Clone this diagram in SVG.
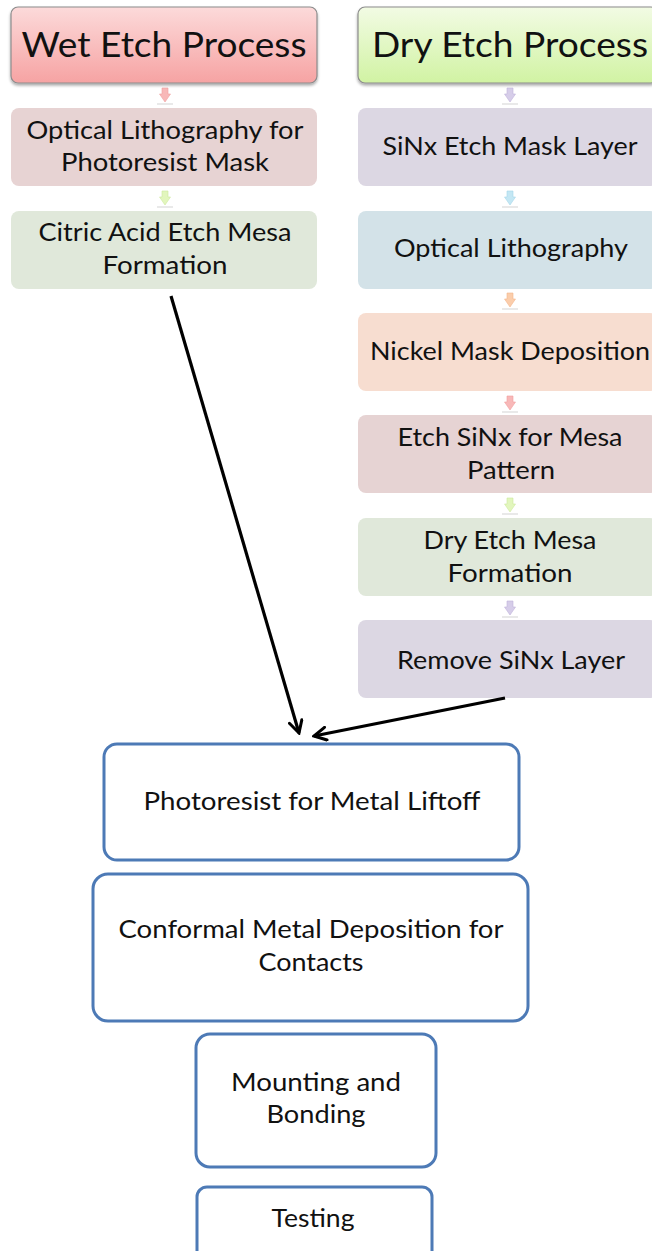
<svg xmlns="http://www.w3.org/2000/svg" width="652" height="1251" viewBox="0 0 652 1251">
  <defs>
    <linearGradient id="gradWet" x1="0" y1="0" x2="0" y2="1">
      <stop offset="0" stop-color="#fcdada"/>
      <stop offset="1" stop-color="#f6a3a3"/>
    </linearGradient>
    <linearGradient id="gradDry" x1="0" y1="0" x2="0" y2="1">
      <stop offset="0" stop-color="#f2fbe4"/>
      <stop offset="1" stop-color="#d1f3a3"/>
    </linearGradient>
    <filter id="shadow" x="-10%" y="-10%" width="120%" height="140%">
      <feGaussianBlur in="SourceAlpha" stdDeviation="1.5"/>
      <feOffset dx="0" dy="2" result="b"/>
      <feComponentTransfer><feFuncA type="linear" slope="0.35"/></feComponentTransfer>
      <feMerge><feMergeNode/><feMergeNode in="SourceGraphic"/></feMerge>
    </filter>
    <!-- small step arrow between stacked boxes -->
    <path id="tick" d="M-3,0 H3 V6 H5.5 L0,14 L-5.5,6 H-3 Z"/>
    <marker id="open" viewBox="0 0 16 16" refX="14" refY="8" markerWidth="16" markerHeight="16" markerUnits="userSpaceOnUse" orient="auto">
      <path d="M2,1.5 L14,8 L2,14.5" fill="none" stroke="#000" stroke-width="3" stroke-linecap="round" stroke-linejoin="miter"/>
    </marker>
  </defs>
  <style>
    text { font-family: Lato, "Open Sans", "Liberation Sans", sans-serif; fill: #111; text-anchor: middle; }
    .hd { font-size: 35px; }
    .bd { font-size: 25px; }
    .head { stroke: #8c8c8c; stroke-width: 1.2; filter: url(#shadow); }
    .step { stroke: none; }
    .tk { stroke-width: 0.6; }
    .tk-shade { stroke: #dadada; stroke-width: 1.2; }
    .out { fill: #fff; stroke: #4d7ab6; stroke-width: 3; }
    .link { fill: none; stroke: #000; stroke-width: 3.2; marker-end: url(#open); }
  </style>

  <rect width="652" height="1251" fill="#fff"/>

  <!-- Wet etch column -->
  <g id="wet-header">
    <rect class="head" x="11" y="7" width="306" height="76" rx="7" fill="url(#gradWet)"/>
    <text class="hd" x="164" y="57" textLength="285" lengthAdjust="spacingAndGlyphs">Wet Etch Process</text>
  </g>
  <g id="wet-step1">
    <use class="tk" href="#tick" x="165" y="88" fill="#f8b8b8" stroke="#f0a0a0"/>
    <line class="tk-shade" x1="157" y1="104" x2="173" y2="104"/>
    <rect class="step" x="11" y="108" width="306" height="78" rx="8" fill="#e7d3d3"/>
    <text class="bd" x="165" y="139" textLength="277" lengthAdjust="spacingAndGlyphs">Optical Lithography for</text>
    <text class="bd" x="165" y="171" textLength="208" lengthAdjust="spacingAndGlyphs">Photoresist Mask</text>
  </g>
  <g id="wet-step2">
    <use class="tk" href="#tick" x="165" y="191" fill="#e2f6bd" stroke="#cfe9a0"/>
    <line class="tk-shade" x1="157" y1="207" x2="173" y2="207"/>
    <rect class="step" x="11" y="211" width="306" height="78" rx="8" fill="#e0e8da"/>
    <text class="bd" x="165" y="241" textLength="253" lengthAdjust="spacingAndGlyphs">Citric Acid Etch Mesa</text>
    <text class="bd" x="165" y="274" textLength="125" lengthAdjust="spacingAndGlyphs">Formation</text>
  </g>

  <!-- Dry etch column -->
  <g id="dry-header">
    <rect class="head" x="358" y="7" width="300" height="76" rx="7" fill="url(#gradDry)"/>
    <text class="hd" x="510" y="57" textLength="276" lengthAdjust="spacingAndGlyphs">Dry Etch Process</text>
  </g>
  <g id="dry-step1">
    <use class="tk" href="#tick" x="510" y="88" fill="#d6cde9" stroke="#bfb2da"/>
    <line class="tk-shade" x1="502" y1="104" x2="518" y2="104"/>
    <rect class="step" x="358" y="108" width="300" height="78" rx="8" fill="#dcd7e3"/>
    <text class="bd" x="510" y="155" textLength="255" lengthAdjust="spacingAndGlyphs">SiNx Etch Mask Layer</text>
  </g>
  <g id="dry-step2">
    <use class="tk" href="#tick" x="510" y="191" fill="#c4e7f4" stroke="#a6d6ea"/>
    <line class="tk-shade" x1="502" y1="207" x2="518" y2="207"/>
    <rect class="step" x="358" y="211" width="300" height="78" rx="8" fill="#d3e2e8"/>
    <text class="bd" x="511" y="257" textLength="234" lengthAdjust="spacingAndGlyphs">Optical Lithography</text>
  </g>
  <g id="dry-step3">
    <use class="tk" href="#tick" x="510" y="293" fill="#fbcdab" stroke="#f1b58c"/>
    <line class="tk-shade" x1="502" y1="309" x2="518" y2="309"/>
    <rect class="step" x="358" y="313" width="300" height="78" rx="8" fill="#f7ddd0"/>
    <text class="bd" x="510" y="360" textLength="280" lengthAdjust="spacingAndGlyphs">Nickel Mask Deposition</text>
  </g>
  <g id="dry-step4">
    <use class="tk" href="#tick" x="510" y="396" fill="#f8b8b8" stroke="#f0a0a0"/>
    <line class="tk-shade" x1="502" y1="412" x2="518" y2="412"/>
    <rect class="step" x="358" y="415" width="300" height="78" rx="8" fill="#e6d3d3"/>
    <text class="bd" x="510" y="446" textLength="225" lengthAdjust="spacingAndGlyphs">Etch SiNx for Mesa</text>
    <text class="bd" x="511" y="479" textLength="88" lengthAdjust="spacingAndGlyphs">Pattern</text>
  </g>
  <g id="dry-step5">
    <use class="tk" href="#tick" x="510" y="498" fill="#e2f6bd" stroke="#cfe9a0"/>
    <line class="tk-shade" x1="502" y1="514" x2="518" y2="514"/>
    <rect class="step" x="358" y="518" width="300" height="78" rx="8" fill="#e0e8da"/>
    <text class="bd" x="510" y="549" textLength="173" lengthAdjust="spacingAndGlyphs">Dry Etch Mesa</text>
    <text class="bd" x="510" y="582" textLength="125" lengthAdjust="spacingAndGlyphs">Formation</text>
  </g>
  <g id="dry-step6">
    <use class="tk" href="#tick" x="510" y="601" fill="#d6cde9" stroke="#bfb2da"/>
    <line class="tk-shade" x1="502" y1="617" x2="518" y2="617"/>
    <rect class="step" x="358" y="620" width="300" height="78" rx="8" fill="#dcd7e3"/>
    <text class="bd" x="511" y="669" textLength="228" lengthAdjust="spacingAndGlyphs">Remove SiNx Layer</text>
  </g>

  <!-- Shared back-end steps -->
  <g id="liftoff">
    <rect class="out" x="104" y="744" width="415" height="116" rx="13"/>
    <text class="bd" x="312" y="810" textLength="337" lengthAdjust="spacingAndGlyphs">Photoresist for Metal Liftoff</text>
  </g>
  <g id="metal">
    <rect class="out" x="93" y="874" width="435" height="147" rx="15"/>
    <text class="bd" x="311" y="938" textLength="385" lengthAdjust="spacingAndGlyphs">Conformal Metal Deposition for</text>
    <text class="bd" x="311" y="971" textLength="105" lengthAdjust="spacingAndGlyphs">Contacts</text>
  </g>
  <g id="mounting">
    <rect class="out" x="196" y="1034" width="240" height="133" rx="14"/>
    <text class="bd" x="316" y="1091" textLength="170" lengthAdjust="spacingAndGlyphs">Mounting and</text>
    <text class="bd" x="316" y="1123" textLength="99" lengthAdjust="spacingAndGlyphs">Bonding</text>
  </g>
  <g id="testing">
    <rect class="out" x="197" y="1187" width="235" height="80" rx="10"/>
    <text class="bd" x="313" y="1227" textLength="83" lengthAdjust="spacingAndGlyphs">Testing</text>
  </g>

  <!-- Connectors -->
  <g id="connectors">
    <line class="link" x1="171" y1="296" x2="299" y2="733"/>
    <line class="link" x1="505" y1="698" x2="314" y2="736"/>
  </g>
</svg>
